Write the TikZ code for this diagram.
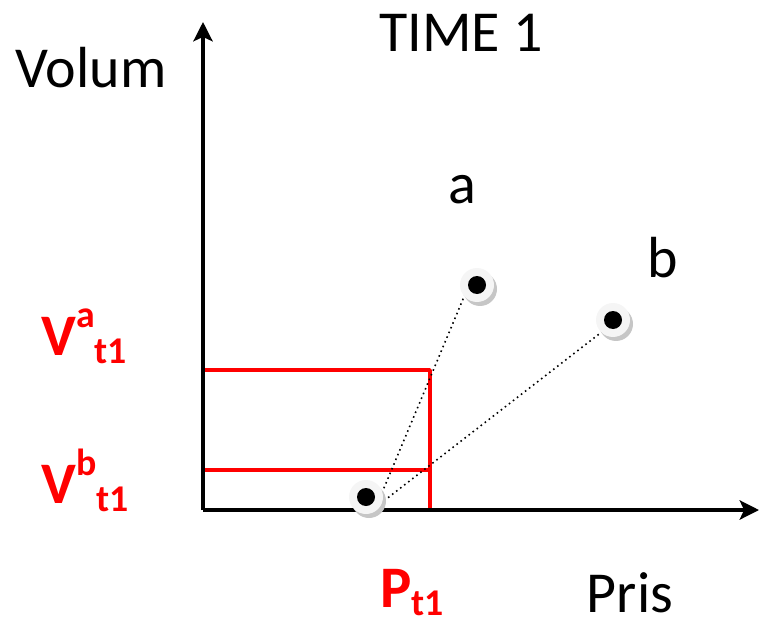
\documentclass[tikz,border=0pt]{standalone}
\usepackage{fontspec}
\setmainfont{Carlito}
\usetikzlibrary{arrows.meta,shadows}
\newcommand{\redlab}[3]{#1\raisebox{0.47em}{\fontsize{21.5}{26}\selectfont #2}\raisebox{-0.15em}{\fontsize{21.5}{26}\selectfont #3}}
\tikzset{
  axis/.style={line width=1.9pt, -{Stealth[length=11pt, width=11pt, inset=2.5pt]}},
  level/.style={red, line width=2pt},
  link/.style={dotted, line width=0.9pt},
  dot/.style={circle, fill=gray!8, minimum size=0.68cm, inner sep=0pt,
    drop shadow={shadow xshift=0.06cm, shadow yshift=-0.08cm, fill=gray!45, opacity=1},
    path picture={\fill[black] (path picture bounding box.center) circle (0.18cm);}},
  txt/.style={font=\fontsize{33}{40}\selectfont, anchor=base, inner sep=0pt},
  rtxt/.style={font=\fontsize{33.5}{40}\selectfont\bfseries, text=red, anchor=base west, inner sep=0pt}
}
\begin{document}
\begin{tikzpicture}[x=0.02cm, y=-0.02cm, line join=round]
	\useasboundingbox (0,0) rectangle (760,625);
	\coordinate (O) at (203,510);
	\coordinate (Y) at (203,22);
	\coordinate (X) at (759,510);
	\coordinate (Ha) at (430,370);
	\coordinate (Hb) at (430,470);
	\coordinate (Ha0) at (203,370);
	\coordinate (Hb0) at (203,470);
	\coordinate (P) at (430,510);
	
	\draw[level] (Ha0) -- (Ha) -- (P);
	\draw[level] (Hb0) -- (Hb);
	
	\draw[axis] (O) -- (Y);
	\draw[axis] (O) -- (X);
	
	\coordinate (s0) at (376,507);
	\coordinate (sa) at (466,292);
	\coordinate (sb) at (603,331);
	\draw[link] (s0) -- (sa);
	\draw[link] (s0) -- (sb);
	
	\node[dot] (d0) at (366,497) {};
	\node[dot] (da) at (477,285) {};
	\node[dot] (db) at (613,320) {};
	
	\node[txt] (time) at (461,52) {TIME 1};
	\node[txt] (volum) at (91,88) {Volum};
	\node[txt] (pris) at (630,612) {Pris};
	\node[txt] (la) at (462,203) {a};
	\node[txt] (lb) at (663,277) {b};
	
	\node[rtxt] (va) at (41,355) {\redlab{V}{a}{t1}};
	\node[rtxt] (vb) at (41,503) {\redlab{V}{b}{t1}};
	\node[rtxt] (pt) at (380,607) {\redlab{P}{}{t1}};
\end{tikzpicture}
\end{document}
